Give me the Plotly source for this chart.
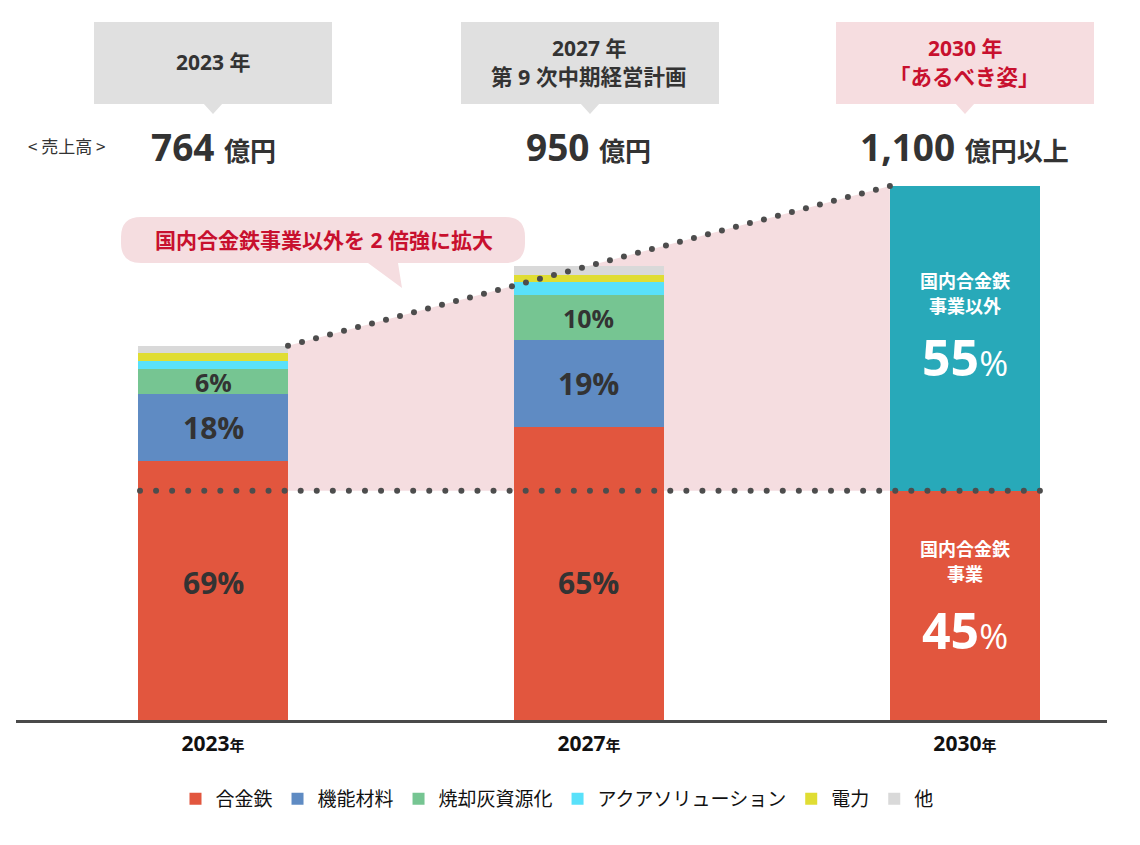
import numpy as np
import plotly.graph_objects as go

# ---------------- data ----------------
years = ["2023", "2027", "2030"]
sales_value = ["764", "950", "1,100"]
sales_unit = ["億円", "億円", "億円以上"]

series_names = ["合金鉄", "機能材料", "焼却灰資源化", "アクアソリューション", "電力", "他"]
ferroalloy = [533, 604, 472]          # 億円
functional_materials = [138, 178, 0]
ash_recycling = [52, 94, 0]
aqua_solutions = [16, 27, 0]
power = [16, 14, 0]
others = [16, 19, 0]
non_domestic_ferro = [0, 0, 628]      # 国内合金鉄事業以外 (2030)

pct_ferro = ["69%", "65%"]
pct_func = ["18%", "19%"]
pct_ash = ["6%", "10%"]
share_2030_domestic = "45"
share_2030_other = "55"

series_values = [ferroalloy, functional_materials, ash_recycling, aqua_solutions, power, others]
series_colors = ["#E2563E", "#5F8BC3", "#76C592", "#59E1FA", "#E0DD33", "#D9D9D9"]
teal = "#28A9B9"
pink = "#F5DDE0"
red_text = "#C8102E"
dark = "#333333"
dot_color = "#4D4D4D"

FONT_JP = "Noto Sans CJK JP"
FONT_NUM = "Open Sans, Noto Sans CJK JP"

xs = [0, 1, 2]
BW = 0.399

# ---------------- geometry helpers (layout only) ----------------
W, H = 1140, 845
PLOT_L, PLOT_R, PLOT_B = 16, 1107, 720
XR = [-0.524, 2.378]
YMAX = 1483.0
UNIT_X = (PLOT_R - PLOT_L) / (XR[1] - XR[0])


def X(px):
    return XR[0] + (px - PLOT_L) / UNIT_X


def Y(py):
    return (PLOT_B - py) * YMAX / PLOT_B


def pt(px, py):
    return f"{X(px):.5f},{Y(py):.3f}"


fig = go.Figure()

totals = [sum(v[i] for v in series_values) + non_domestic_ferro[i] for i in range(3)]

for name, vals, col in zip(series_names, series_values, series_colors):
    fig.add_trace(go.Bar(x=xs, y=vals, name=name, width=BW, marker=dict(color=col, line=dict(width=0)),
                         hoverinfo="skip"))
fig.add_trace(go.Bar(x=xs, y=non_domestic_ferro, name="国内合金鉄事業以外", width=BW,
                     marker=dict(color=teal, line=dict(width=0)), showlegend=False, hoverinfo="skip"))

# dotted growth line (top of 2023 bar -> top of 2030 bar)
xl, xr = xs[0] + BW / 2, xs[2] - BW / 2
fig.add_trace(go.Scatter(x=np.linspace(xl, xr, 44), y=np.linspace(totals[0], totals[2], 44), mode="markers",
                         marker=dict(size=6, color=dot_color), showlegend=False, hoverinfo="skip"))
# dotted horizontal line at the 2030 domestic ferroalloy level
hx = np.linspace(xs[0] - BW / 2 + 2 / UNIT_X, xs[2] + BW / 2, 57)
fig.add_trace(go.Scatter(x=hx, y=[ferroalloy[2]] * len(hx), mode="markers",
                         marker=dict(size=6, color=dot_color), showlegend=False, hoverinfo="skip"))

shapes = []
# pink expansion area
shapes.append(dict(type="path", xref="x", yref="y", layer="below", fillcolor=pink, line=dict(width=0),
                   path=f"M {xl},{totals[0]} L {xr},{totals[2]} L {xr},{ferroalloy[2]} L {xl},{ferroalloy[2]} Z"))

# top callout boxes
boxes = [(94, 332, "#E0E0E0"), (461, 719, "#E0E0E0"), (836, 1094, "#F6DDE0")]
for (bx0, bx1, fc), cx in zip(boxes, [213, 590, 965]):
    shapes.append(dict(type="rect", xref="x", yref="y", x0=X(bx0), x1=X(bx1), y0=Y(104), y1=Y(22),
                       fillcolor=fc, line=dict(width=0), layer="above"))
    shapes.append(dict(type="path", xref="x", yref="y", fillcolor=fc, line=dict(width=0), layer="above",
                       path=f"M {pt(cx - 10, 103)} L {pt(cx + 10, 103)} L {pt(cx, 114)} Z"))

# speech bubble
r = 20
bl, bt, br_, bb = 121, 217, 525, 263
bubble = (f"M {pt(bl + r, bt)} L {pt(br_ - r, bt)} Q {pt(br_, bt)} {pt(br_, bt + r)} "
          f"L {pt(br_, bb - r)} Q {pt(br_, bb)} {pt(br_ - r, bb)} "
          f"L {pt(398, bb)} L {pt(402, 288)} L {pt(368, bb)} "
          f"L {pt(bl + r, bb)} Q {pt(bl, bb)} {pt(bl, bb - r)} L {pt(bl, bt + r)} Q {pt(bl, bt)} {pt(bl + r, bt)} Z")
shapes.append(dict(type="path", xref="x", yref="y", fillcolor=pink, line=dict(width=0), layer="above", path=bubble))

ann = []
# callout texts
ann.append(dict(x=0, y=Y(62), text="<b>2023 年</b>", font=dict(size=21, color=dark, family=FONT_NUM)))
ann.append(dict(x=1, y=Y(48), text="<b>2027 年</b>", font=dict(size=21, color=dark, family=FONT_NUM)))
ann.append(dict(x=1, y=Y(76), text="<b>第 9 次中期経営計画</b>", font=dict(size=21.5, color=dark, family=FONT_NUM)))
ann.append(dict(x=2, y=Y(48), text="<b>2030 年</b>", font=dict(size=21, color=red_text, family=FONT_NUM)))
ann.append(dict(x=2, y=Y(76), text="<b>「あるべき姿」</b>", font=dict(size=21.5, color=red_text, family=FONT_NUM)))

# sales figures
for i in range(3):
    ann.append(dict(x=xs[i], y=Y(146),
                    text=f"<b>{sales_value[i]}</b> <b><span style='font-size:26px'>{sales_unit[i]}</span></b>",
                    font=dict(size=37, color=dark, family=FONT_NUM)))
ann.append(dict(x=X(67), y=Y(145), text="&lt; 売上高 &gt;", font=dict(size=17, color=dark, family=FONT_JP)))

# bubble text
ann.append(dict(x=X(324), y=Y(240), text="<b>国内合金鉄事業以外を 2 倍強に拡大</b>",
                font=dict(size=21, color=red_text, family=FONT_NUM)))

# percentage labels (2023, 2027)
for i in range(2):
    ann.append(dict(x=xs[i], y=Y(582), text=f"<b>{pct_ferro[i]}</b>", font=dict(size=30, color=dark, family=FONT_NUM)))
    ann.append(dict(x=xs[i], y=ferroalloy[i] + functional_materials[i] / 2, text=f"<b>{pct_func[i]}</b>",
                    font=dict(size=30, color=dark, family=FONT_NUM)))
    ann.append(dict(x=xs[i], y=ferroalloy[i] + functional_materials[i] + ash_recycling[i] / 2,
                    text=f"<b>{pct_ash[i]}</b>", font=dict(size=25, color=dark, family=FONT_NUM)))

# 2030 labels
white_lbl = dict(size=18, color="white", family=FONT_JP)
ann.append(dict(x=2, y=Y(280), text="<b>国内合金鉄</b>", font=white_lbl))
ann.append(dict(x=2, y=Y(305), text="<b>事業以外</b>", font=white_lbl))
ann.append(dict(x=2, y=Y(357), text=f"<b>{share_2030_other}</b><span style='font-size:35px'>%</span>",
                font=dict(size=50, color="white", family=FONT_NUM)))
ann.append(dict(x=2, y=Y(548), text="<b>国内合金鉄</b>", font=white_lbl))
ann.append(dict(x=2, y=Y(573), text="<b>事業</b>", font=white_lbl))
ann.append(dict(x=2, y=Y(630), text=f"<b>{share_2030_domestic}</b><span style='font-size:35px'>%</span>",
                font=dict(size=50, color="white", family=FONT_NUM)))

for a in ann:
    a.setdefault("xref", "x")
    a.setdefault("yref", "y")
    a.update(showarrow=False, xanchor="center", yanchor="middle")

ticktext = [f"<b>{y}<span style='font-size:15px'>年</span></b>" for y in years]

fig.update_layout(
    width=W, height=H,
    margin=dict(l=PLOT_L, r=W - PLOT_R, t=0, b=H - PLOT_B, pad=0),
    paper_bgcolor="white", plot_bgcolor="rgba(0,0,0,0)",
    barmode="stack", bargap=0,
    font=dict(family=FONT_JP, color=dark),
    shapes=shapes, annotations=ann,
    showlegend=True,
    legend=dict(orientation="h", x=(557 - PLOT_L) / (PLOT_R - PLOT_L), xanchor="center",
                y=(PLOT_B - 799) / PLOT_B, yanchor="middle",
                font=dict(size=19, color="#111111", family=FONT_JP), traceorder="normal",
                bgcolor="rgba(0,0,0,0)"),
    xaxis=dict(range=XR, tickmode="array", tickvals=xs, ticktext=ticktext, showgrid=False, zeroline=False,
               showline=True, linecolor="#4A4A4A", linewidth=3, ticks="",
               tickfont=dict(size=21, color="#111111", family=FONT_NUM), ticklabelstandoff=3, fixedrange=True),
    yaxis=dict(range=[0, YMAX], visible=False, fixedrange=True),
)

fig.write_html("out.html")
